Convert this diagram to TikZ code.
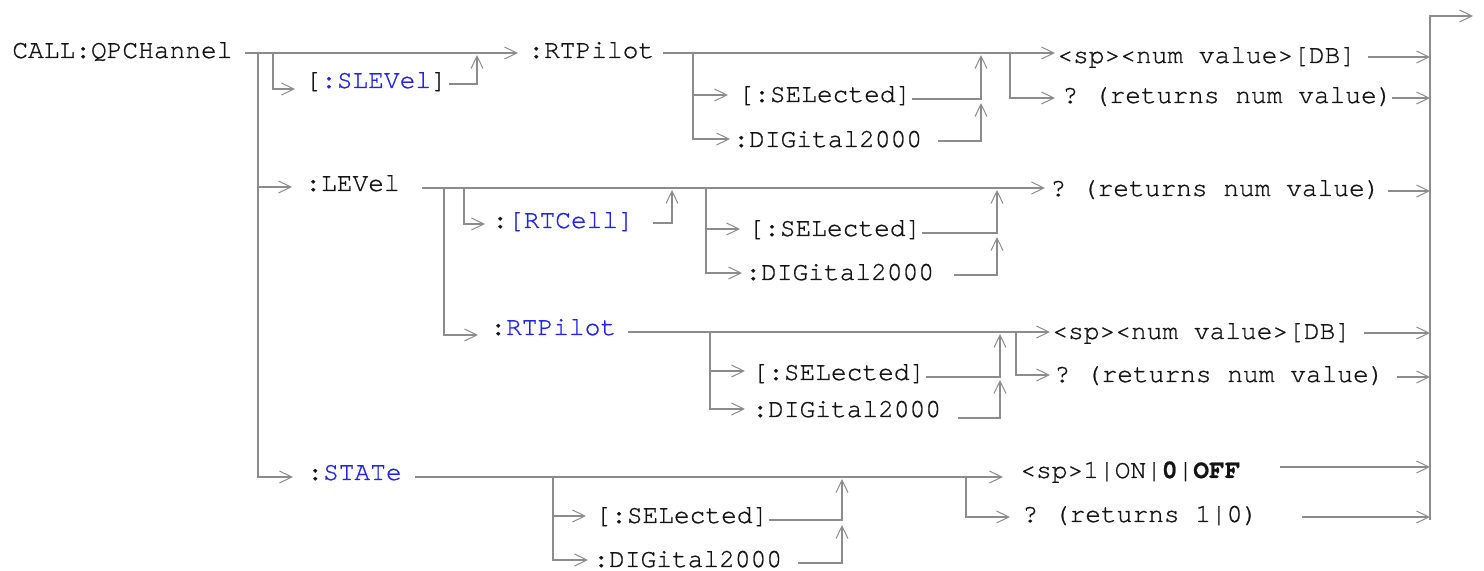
\documentclass[tikz,border=0pt]{standalone}
\usepackage{fontspec}
\setmonofont{texgyrecursor-regular.otf}[BoldFont=texgyrecursor-bold.otf, FakeBold=0.9]
\usetikzlibrary{arrows.meta}
\definecolor{ln}{RGB}{140,140,140}
\definecolor{bl}{RGB}{35,35,240}
\definecolor{tx}{RGB}{20,20,20}
\begin{document}
\begin{tikzpicture}[x=0.5pt,y=-0.5pt,
  lbl/.style={anchor=base west, inner sep=0pt, font=\ttfamily\fontsize{13.1pt}{14pt}\selectfont, text=tx},
  wire/.style={draw=ln, line width=0.9pt},
  arr/.style={wire, -{Straight Barb[length=6.2pt,width=6pt,line width=0.5pt]}}]
\useasboundingbox (0,0) rectangle (1484,571);
% ---- texts
\node[lbl] (call) at (12,58) {CALL:QPCHannel};
\node[lbl] (slev) at (305,88) {[\textcolor{bl}{:SLEVel}]};
\node[lbl] (rtp1) at (528,58) {:RTPilot};
\node[lbl] (sel1) at (738,102) {[:SELected]};
\node[lbl] (dig1) at (733,147) {:DIGital2000};
\node[lbl] (num1) at (1057,63) {<sp><num value>[DB]};
\node[lbl] (q1) at (1062,103) {? (returns num value)};
\node[lbl] (lev) at (305,191) {:LEVel};
\node[lbl] (q2) at (1050,196) {? (returns num value)};
\node[lbl] (rtc) at (492,228) {:\textcolor{bl}{[RTCell]}};
\node[lbl] (sel2) at (748,236) {[:SELected]};
\node[lbl] (dig2) at (745,280) {:DIGital2000};
\node[lbl] (rtp2) at (490,335) {:\textcolor{bl}{RTPilot}};
\node[lbl] (num2) at (1052,339) {<sp><num value>[DB]};
\node[lbl] (q3) at (1054,382) {? (returns num value)};
\node[lbl] (sel3) at (752,380) {[:SELected]};
\node[lbl] (dig3) at (752,417) {:DIGital2000};
\node[lbl] (stat) at (307,480) {:\textcolor{bl}{STATe}};
\node[lbl] (sel4) at (595,523) {[:SELected]};
\node[lbl] (dig4) at (593,567) {:DIGital2000};
\node[lbl] (on) at (1020,478) {<sp>1|ON|\textbf{0}|\textbf{OFF}};
\node[lbl] (q4) at (1022,522) {? (returns 1|0)};
% ---- junction coordinates
\coordinate (m0) at (245,53);
\coordinate (tr) at (258,53);
\coordinate (levin) at (292,187);
\coordinate (statin) at (293,477);
\coordinate (endbar) at (1430,520);
\coordinate (exit) at (1473,16);
% ---- top section
\draw[arr] (m0) -- (518,53);
\draw[arr] (tr) |- (statin);
\draw[arr] (tr |- levin) -- (levin);
\draw[arr] (273,53) |- (295,89);
\draw[arr] (449,84) -| (477,55);
\draw[arr] (663,53) -- (1055,53);
\draw[arr] (693,53) |- (730,139);
\draw[arr] (693,95) -- (728,95);
\draw[arr] (sel1.east |- 0,99) -| (981,55);
\draw[arr] (938,141) -| (981,103);
\draw[arr] (1010,53) |- (1055,98);
\draw[arr] (1368,57) -- (1430,57);
\draw[arr] (1392,98) -- (1430,98);
\draw[arr] (endbar) -- (1430,16) -- (exit);
% ---- LEVel section
\draw[arr] (422,188) -- (1045,188);
\draw[arr] (1388,191) -- (1430,191);
\draw[arr] (444,188) |- (478,335);
\draw[arr] (464,188) |- (485,224);
\draw[arr] (653,223) -| (672,190);
\draw[arr] (706,188) |- (742,273);
\draw[arr] (706,229) -- (740,229);
\draw[arr] (sel2.east |- 0,233) -| (997,190);
\draw[arr] (954,275) -| (997,237);
\draw[arr] (628,332) -- (1050,332);
\draw[arr] (710,332) |- (745,409);
\draw[arr] (710,371) -- (745,371);
\draw[arr] (sel3.east |- 0,377) -| (1000,334);
\draw[arr] (958,418) -| (1000,380);
\draw[arr] (1016,332) |- (1050,375);
\draw[arr] (1364,333) -- (1430,333);
\draw[arr] (1397,377) -- (1430,377);
% ---- STATe section
\draw[arr] (415,477) -- (1003,477);
\draw[arr] (553,477) |- (588,560);
\draw[arr] (553,516) -- (586,516);
\draw[arr] (sel4.east |- 0,520) -| (842,479);
\draw[arr] (798,563) -| (842,525);
\draw[arr] (966,477) |- (1010,517);
\draw[arr] (1280,467) -- (1430,467);
\draw[arr] (1302,517) -- (1430,517);
\end{tikzpicture}
\end{document}
